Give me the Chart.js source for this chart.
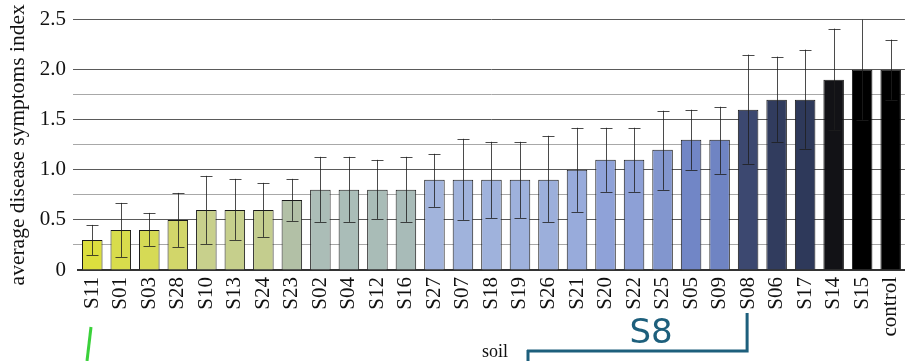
<!DOCTYPE html>
<html>
<head>
<meta charset="utf-8">
<script src="https://cdn.jsdelivr.net/npm/chart.js@4.4.0/dist/chart.umd.min.js"></script>
<style>
  html, body { margin: 0; padding: 0; background: #fff; }
  #wrap { width: 923px; height: 361px; }
</style>
</head>
<body>
<div id="wrap"><canvas id="graphicSoil" width="923" height="361"></canvas></div>
<script>
// soil samples vs disease index
const soils = ['S11','S01','S03','S28','S10','S13','S24','S23','S02','S04','S12','S16','S27','S07',
  'S18','S19','S26','S21','S20','S22','S25','S05','S09','S08','S06','S17','S14','S15','control'];
const indexValues = [0.3,0.4,0.4,0.5,0.6,0.6,0.6,0.7,0.8,0.8,0.8,0.8,0.9,0.9,
  0.9,0.9,0.9,1.0,1.1,1.1,1.2,1.3,1.3,1.6,1.7,1.7,1.9,2.0,2.0];
const errLow = [0.15,0.13,0.24,0.23,0.26,0.30,0.33,0.49,0.48,0.48,0.51,0.48,0.63,0.50,
  0.52,0.52,0.48,0.58,0.78,0.78,0.80,1.00,0.96,1.06,1.28,1.21,1.40,1.50,1.70];
const errHigh = [0.45,0.67,0.57,0.77,0.94,0.91,0.87,0.91,1.13,1.13,1.10,1.13,1.16,1.31,
  1.28,1.28,1.34,1.42,1.42,1.42,1.59,1.60,1.63,2.15,2.13,2.20,2.41,2.60,2.30];
const barColors = ['#dcdf3e','#d8dc4c','#d6da55','#d2d66a','#c8d08c','#c6cf8c','#c4cd8e','#b2c0a6',
  '#abbdb7','#aabdb8','#a9bcb7','#a8bbb8','#a2b4dc','#a0b3dc','#9fb2dc','#9eb1dc','#9cafdb',
  '#98abdb','#8fa2d8','#8da0d6','#8296ce','#7186c6','#6f84c3','#3c4870','#313c5e','#2e395a',
  '#121216','#000000','#000000'];
const yTicks = [0, 0.5, 1.0, 1.5, 2.0, 2.5];

const serif = '"Liberation Serif", "Times New Roman", serif';

// error bars drawn with the scales
const errorBars = {
  id: 'errorBars',
  afterDatasetsDraw(chart) {
    const ctx = chart.ctx;
    const meta = chart.getDatasetMeta(0);
    const y = chart.scales.y;
    const area = chart.chartArea;
    ctx.save();
    ctx.strokeStyle = 'rgba(30,30,30,0.8)';
    ctx.lineWidth = 1;
    meta.data.forEach((bar, i) => {
      const x = Math.round(bar.x) + 0.5;
      const yl = y.getPixelForValue(errLow[i]);
      const yh = Math.max(area.top, y.getPixelForValue(errHigh[i]));
      ctx.beginPath();
      ctx.moveTo(x, yl);
      ctx.lineTo(x, yh);
      ctx.stroke();
      ctx.beginPath();
      ctx.moveTo(x - 6, Math.round(yl) + 0.5);
      ctx.lineTo(x + 6, Math.round(yl) + 0.5);
      if (y.getPixelForValue(errHigh[i]) >= area.top) {
        ctx.moveTo(x - 6, Math.round(yh) + 0.5);
        ctx.lineTo(x + 6, Math.round(yh) + 0.5);
      }
      ctx.stroke();
    });
    ctx.restore();
  }
};

// hand drawn marks under the axis
const marks = {
  id: 'marks',
  afterDraw(chart) {
    const ctx = chart.ctx;
    const meta = chart.getDatasetMeta(0);
    const s08x = meta.data[soils.indexOf('S08')].x;
    ctx.save();
    ctx.strokeStyle = '#3ad13a';
    ctx.lineWidth = 3;
    ctx.beginPath();
    ctx.moveTo(91, 327);
    ctx.lineTo(87, 361);
    ctx.stroke();

    ctx.strokeStyle = '#1d5f7c';
    ctx.lineWidth = 3;
    ctx.beginPath();
    ctx.moveTo(s08x - 1, 313);
    ctx.lineTo(s08x - 1, 351);
    ctx.lineTo(527, 351);
    ctx.moveTo(528, 350);
    ctx.lineTo(528, 361);
    ctx.stroke();

    ctx.fillStyle = '#1d5f7c';
    ctx.font = '34px "DejaVu Sans", Verdana, sans-serif';
    ctx.textAlign = 'center';
    ctx.textBaseline = 'alphabetic';
    ctx.fillText('S8', 651, 343);

    ctx.fillStyle = '#111';
    ctx.font = '18px ' + serif;
    ctx.textAlign = 'left';
    ctx.fillText('soil', 482, 357);
    ctx.restore();
  }
};

let chart1;
function getDrawGraphicSoil() {
  const ctx = document.getElementById('graphicSoil').getContext('2d');
  if (chart1) {
    chart1.destroy();
  }
  chart1 = new Chart(ctx, {
    type: 'bar',
    data: {
      labels: soils,
      datasets: [{
        label: 'average disease symptoms index',
        data: indexValues,
        backgroundColor: barColors,
        borderColor: '#1a1a1a',
        borderWidth: 1,
        barPercentage: 0.72,
        categoryPercentage: 1.0
      }]
    },
    plugins: [errorBars, marks],
    options: {
      responsive: false,
      animation: false,
      layout: { padding: { top: 17, right: 7, left: 0, bottom: 0 } },
      plugins: { legend: { display: false }, tooltip: { enabled: false } },
      scales: {
        x: {
          grid: { display: false, drawTicks: false },
          border: { display: true, color: '#333', width: 2 },
          ticks: {
            autoSkip: false,
            minRotation: 90,
            maxRotation: 90,
            padding: 7,
            color: '#111',
            font: { family: serif, size: 21 }
          },
          afterFit(scale) { scale.height = 91; }
        },
        y: {
          min: 0,
          max: 2.5,
          border: { display: false },
          grid: {
            color(c) {
              const v = c.tick.value;
              if (Math.abs(v) < 1e-6 || Math.abs(v - 2.25) < 1e-6) return 'rgba(0,0,0,0)';
              return (Math.abs(v * 2 - Math.round(v * 2)) < 1e-6) ? '#5a5a5a' : '#a8a8a8';
            },
            lineWidth: 1,
            drawTicks: true,
            tickLength: 5
          },
          ticks: {
            stepSize: 0.25,
            autoSkip: false,
            padding: 7,
            color: '#111',
            font: { family: serif, size: 21 },
            callback(v) {
              const hit = yTicks.find(t => Math.abs(t - v) < 1e-6);
              if (hit === undefined) return '';
              return hit === 0 ? '0' : hit.toFixed(1);
            }
          },
          title: {
            display: true,
            text: 'average disease symptoms index',
            color: '#111',
            font: { family: serif, size: 21.5 },
            padding: { top: 5, bottom: 0 }
          },
          afterFit(scale) { scale.width = 78; }
        }
      }
    }
  });
}

getDrawGraphicSoil();
</script>
</body>
</html>
